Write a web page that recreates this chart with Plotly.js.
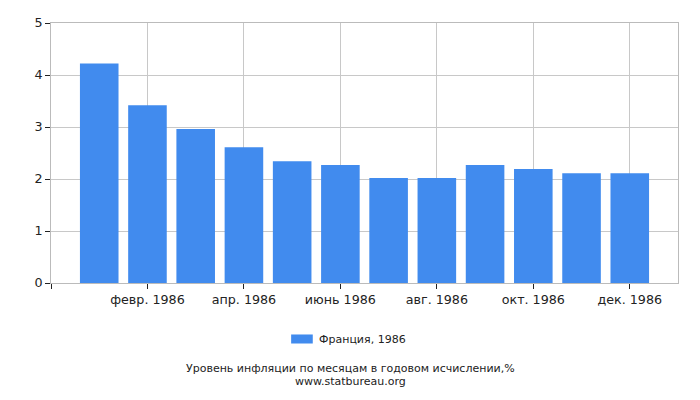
<!DOCTYPE html>
<html>
<head>
<meta charset="utf-8">
<script src="https://cdn.plot.ly/plotly-3.0.1.min.js"></script>
<style>
  body { margin: 0; background: #fff; }
  #chart { width: 700px; height: 400px; }
</style>
</head>
<body>
<div id="chart"></div>
<script>
// month index: 0 = январь 1986
var monthIdx = [0, 1, 2, 3, 4, 5, 6, 7, 8, 9, 10, 11];
var inflation = [4.22, 3.42, 2.96, 2.61, 2.34, 2.27, 2.02, 2.02, 2.27, 2.19, 2.11, 2.11];
var tickPos = [-1, 1, 3, 5, 7, 9, 11];
var tickLabels = ['', 'февр. 1986', 'апр. 1986', 'июнь 1986', 'авг. 1986', 'окт. 1986', 'дек. 1986'];
var seriesName = 'Франция, 1986';
var barColor = '#418bee';

var trace = {
    x: monthIdx,
    y: inflation,
    type: 'bar',
    name: seriesName,
    width: 0.8,
    marker: { color: barColor },
    hoverinfo: 'y'
};

// legend drawn by hand so the swatch is a wide rectangle like the original
var layout = {
    width: 700,
    height: 400,
    margin: { l: 50.5, r: 22, t: 22.5, b: 117 },
    paper_bgcolor: '#fff',
    plot_bgcolor: '#fff',
    font: { family: 'DejaVu Sans, sans-serif', size: 12.7, color: '#222' },
    showlegend: false,
    xaxis: {
        range: [-1, 12],
        tickmode: 'array',
        tickvals: tickPos,
        ticktext: tickLabels,
        ticks: 'outside',
        ticklen: 5,
        tickcolor: '#222',
        showgrid: true,
        gridcolor: '#c8c8c8',
        showline: true,
        linecolor: '#bbb',
        mirror: true,
        zeroline: false,
        fixedrange: true
    },
    yaxis: {
        range: [0, 5],
        dtick: 1,
        ticks: 'outside',
        ticklen: 5,
        tickcolor: '#222',
        showgrid: true,
        gridcolor: '#c8c8c8',
        showline: true,
        linecolor: '#bbb',
        mirror: true,
        zeroline: false,
        fixedrange: true
    },
    shapes: [
        {
            type: 'rect', xref: 'paper', yref: 'paper',
            x0: 0.383, x1: 0.4175, y0: -0.2327, y1: -0.198,
            fillcolor: barColor, line: { width: 0 }
        }
    ],
    annotations: [
        {
            text: seriesName,
            xref: 'paper', yref: 'paper',
            x: 0.424, y: -0.2174,
            xanchor: 'left', yanchor: 'middle',
            showarrow: false,
            font: { size: 11, color: '#222' }
        },
        {
            text: 'Уровень инфляции по месяцам в годовом исчислении,%',
            xref: 'paper', yref: 'paper',
            x: 0.478, y: -0.3286,
            xanchor: 'center', yanchor: 'middle',
            showarrow: false,
            font: { size: 11, color: '#222' }
        },
        {
            text: 'www.statbureau.org',
            xref: 'paper', yref: 'paper',
            x: 0.478, y: -0.3785,
            xanchor: 'center', yanchor: 'middle',
            showarrow: false,
            font: { size: 11, color: '#222' }
        }
    ]
};

Plotly.newPlot('chart', [trace], layout, { displayModeBar: false, staticPlot: true });
</script>
</body>
</html>
